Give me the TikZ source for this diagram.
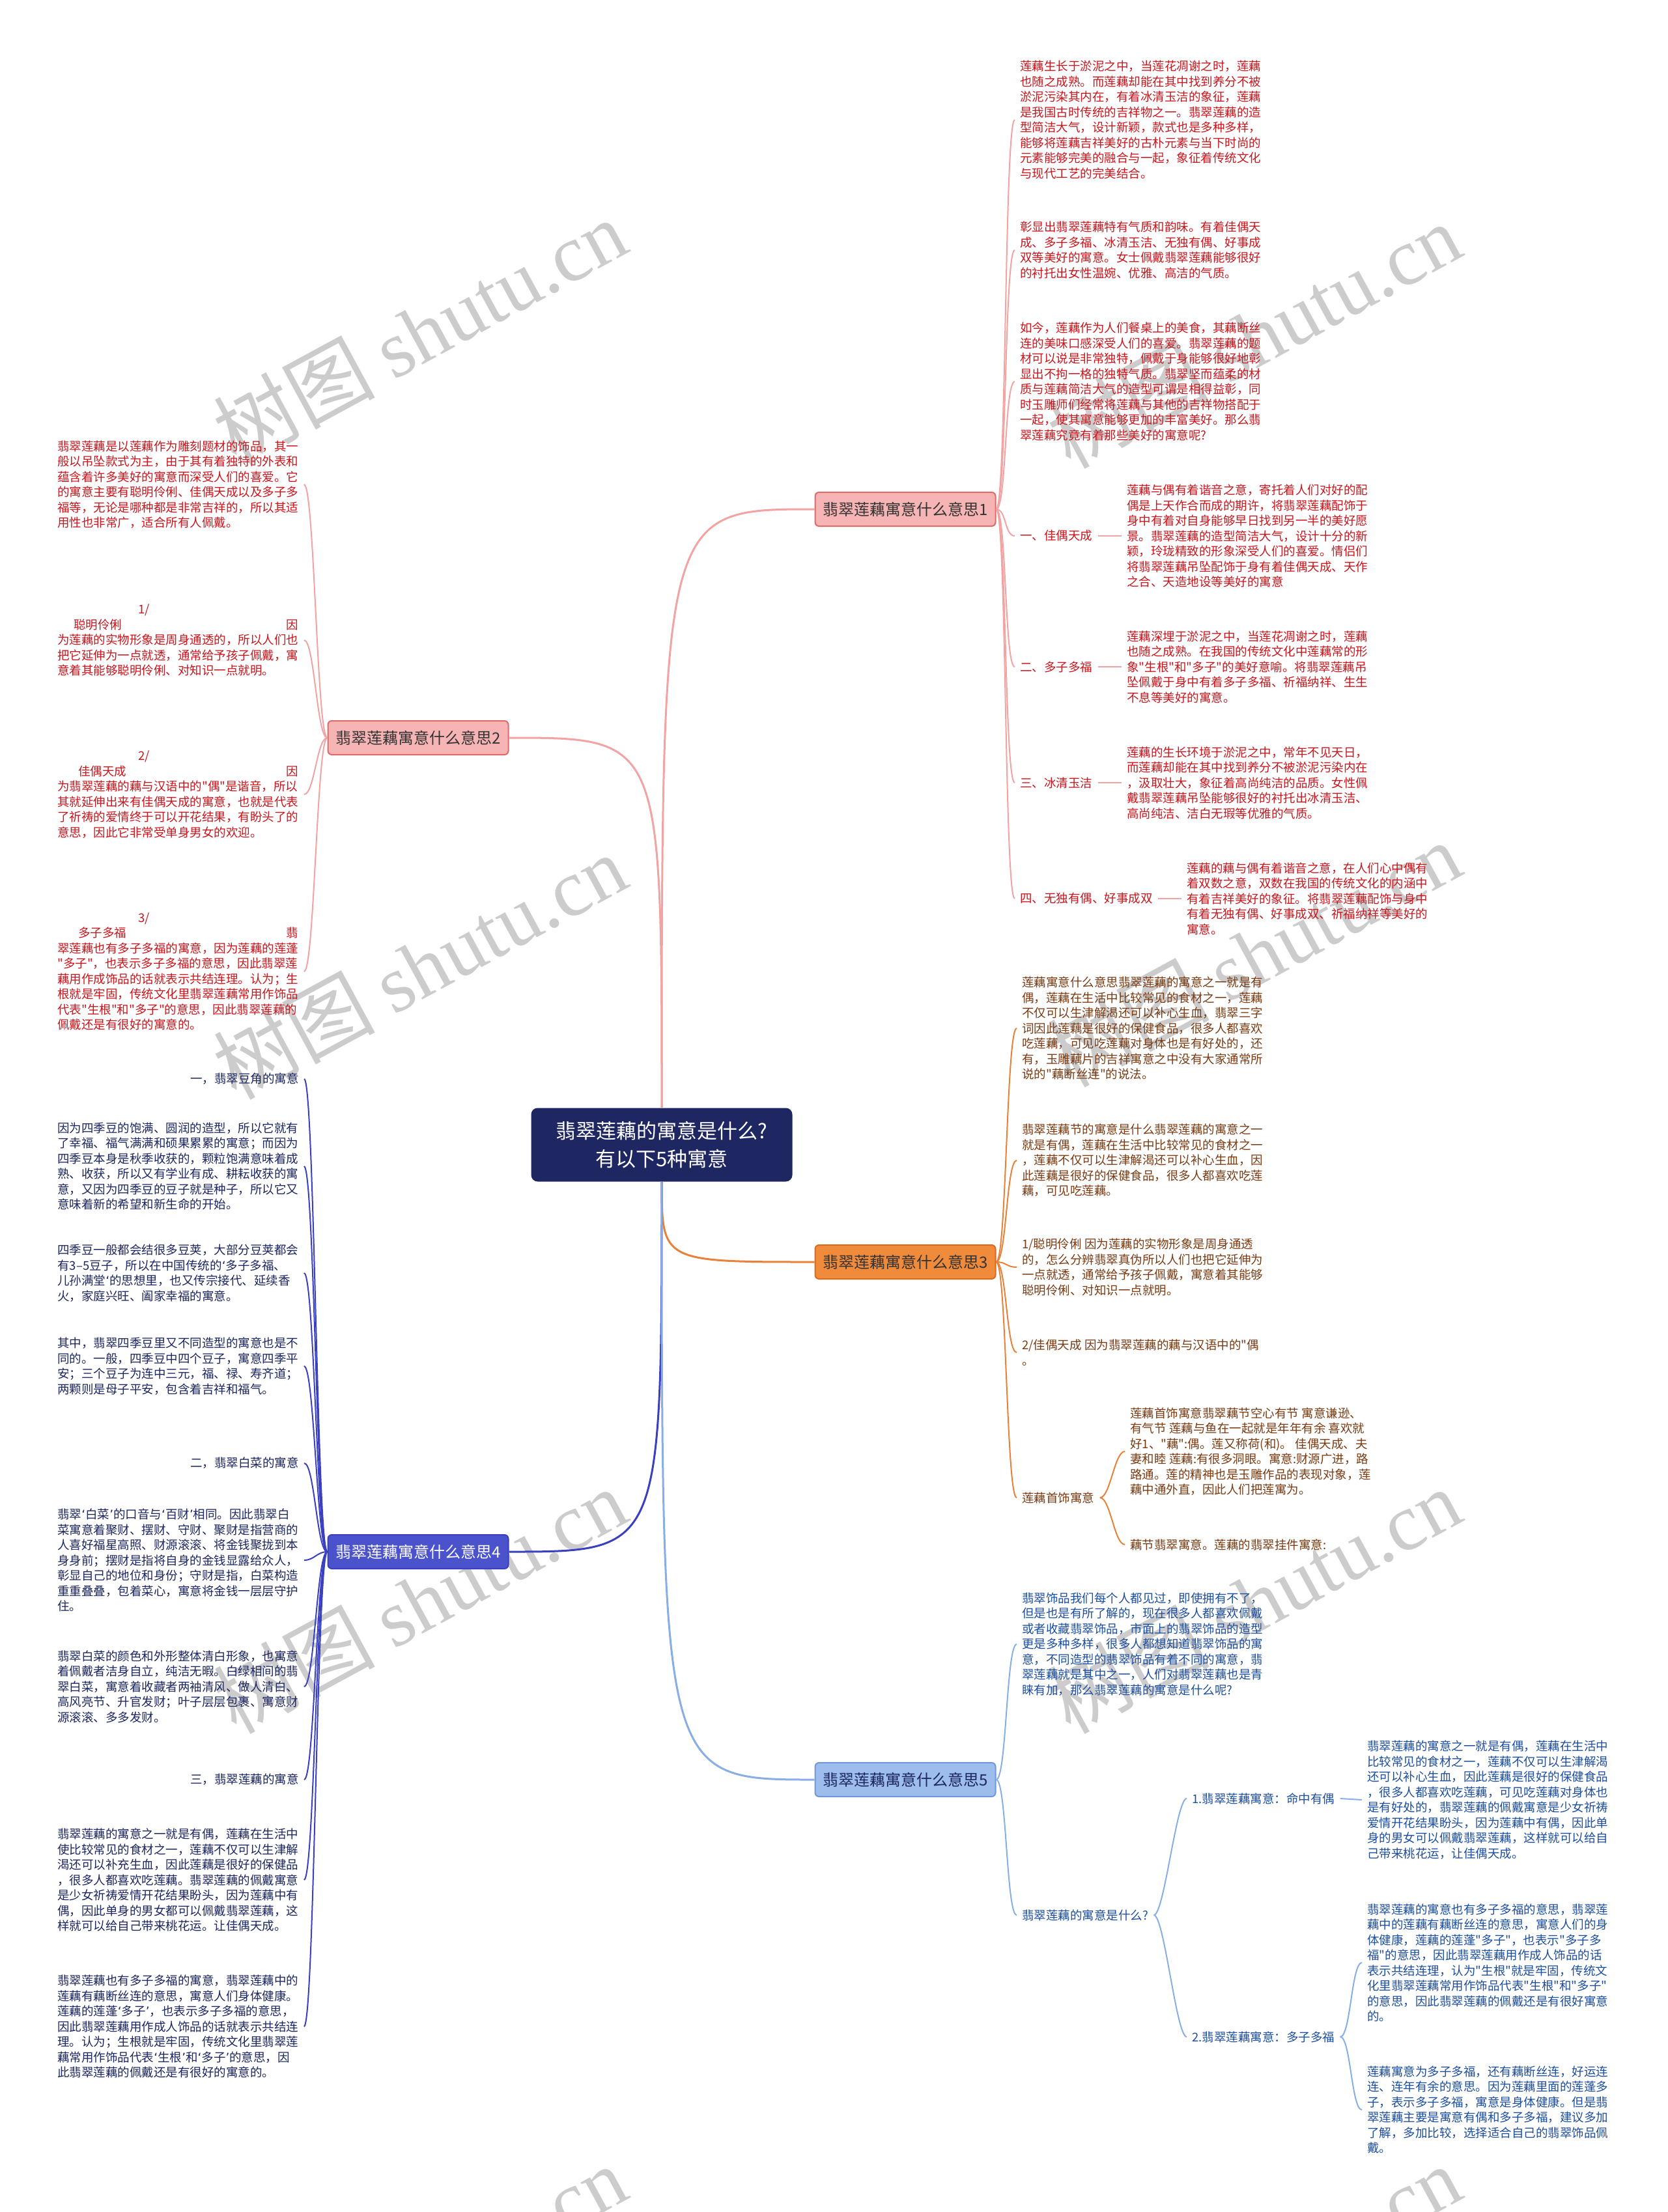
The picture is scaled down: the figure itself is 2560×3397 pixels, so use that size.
\documentclass[tikz,border=0pt]{standalone}
\usepackage{fontspec}
\newfontfamily\cjk{Noto Sans CJK SC}
\newfontfamily\wmfont{Liberation Serif}
\newfontfamily\latin{DejaVu Sans}
\usetikzlibrary{positioning}

\definecolor{rootfill}{HTML}{1F2762}
\definecolor{redline}{HTML}{F2A3A3}
\definecolor{redtext}{HTML}{C9161D}
\definecolor{redfill}{HTML}{F7B4B4}
\definecolor{rededge}{HTML}{E06A6A}
\definecolor{orline}{HTML}{E8823A}
\definecolor{ortext}{HTML}{7A3A12}
\definecolor{orfill}{HTML}{F08B3C}
\definecolor{oredge}{HTML}{D96A1E}
\definecolor{inline}{HTML}{3A40C0}
\definecolor{intext}{HTML}{1C2660}
\definecolor{infill}{HTML}{4A52CC}
\definecolor{blline}{HTML}{89AEE6}
\definecolor{bltext}{HTML}{1D4E9E}
\definecolor{blfill}{HTML}{9DBDEC}
\definecolor{bledge}{HTML}{6F98DA}

\tikzset{
  txt/.style={font=\cjk\fontsize{9.25}{11.75}\selectfont, inner sep=4pt, align=left},
  mainbox/.style={draw, rounded corners=3pt, minimum width=138.5pt, minimum height=26pt,
    inner sep=0pt, line width=1pt, font=\cjk\fontsize{12}{14}\selectfont},
  rootbox/.style={fill=rootfill, text=white, rounded corners=5pt, minimum width=200.5pt,
    minimum height=56.5pt, align=center, font=\cjk\fontsize{15.5}{21.5}\selectfont},
  wmark/.style={rotate=28.5, text=black!20, font=\cjk\fontsize{62}{62}\selectfont},
  rlink/.style={to path={.. controls +(16,0) and +(-16,0) .. (\tikztotarget)}},
  llink/.style={to path={.. controls +(-16,0) and +(16,0) .. (\tikztotarget)}},
}
\newlength\pw
\setlength\pw{185pt}
\newcommand\lsq{{\latin ‘}}
\newcommand\rsq{{\latin ’}}

\begin{document}
\begin{tikzpicture}[x=0.5pt,y=-0.5pt]
\fill[white] (0,0) rectangle (2560,3397);
\useasboundingbox (0,0) rectangle (2560,3397);

% watermark
\begin{scope}
\clip (0,0) rectangle (2560,3397);
\node (wm1) at (644,509) [wmark] {树图 {\wmfont shutu.cn}};
\node (wm2) at (1925,515) [wmark] {树图 {\wmfont shutu.cn}};
\node (wm3) at (644,1484) [wmark] {树图 {\wmfont shutu.cn}};
\node (wm4) at (1925,1465) [wmark] {树图 {\wmfont shutu.cn}};
\node (wm5) at (644,2458) [wmark] {树图 {\wmfont shutu.cn}};
\node (wm6) at (1925,2458) [wmark] {树图 {\wmfont shutu.cn}};
\node (wm7) at (644,3498) [wmark] {树图 {\wmfont shutu.cn}};
\node (wm8) at (1925,3498) [wmark] {树图 {\wmfont shutu.cn}};
\end{scope}

% root and main topics
\node (root) at (1016,1758) [rootbox] {翡翠莲藕的寓意是什么?\\有以下5种寓意};
\node (b1) at (1390,782) [mainbox, draw=rededge, fill=redfill, text=black!80] {翡翠莲藕寓意什么意思1};
\node (b2) at (642,1133) [mainbox, draw=rededge, fill=redfill, text=black!80] {翡翠莲藕寓意什么意思2};
\node (b3) at (1390,1938) [mainbox, draw=oredge, fill=orfill, text=black!80] {翡翠莲藕寓意什么意思3};
\node (b4) at (642,2383) [mainbox, draw=inline, fill=infill, text=white] {翡翠莲藕寓意什么意思4};
\node (b5) at (1390,2733) [mainbox, draw=bledge, fill=blfill, text=intext] {翡翠莲藕寓意什么意思5};

\draw[redline, line width=1.5pt] (root.north) .. controls (root.north |- b1.west) .. (b1.west);
\draw[redline, line width=1.5pt] (root.north) .. controls (root.north |- b2.east) .. (b2.east);
\draw[orline, line width=1.5pt] (root.south) .. controls (root.south |- b3.west) .. (b3.west);
\draw[inline, line width=1.5pt] (root.south) .. controls (root.south |- b4.east) .. (b4.east);
\draw[blline, line width=1.5pt] (root.south) .. controls (root.south |- b5.west) .. (b5.west);

% topic 1
\node (c1a) at (1558,184) [txt, anchor=west, text=redtext] {莲藕生长于淤泥之中，当莲花凋谢之时，莲藕\\也随之成熟。而莲藕却能在其中找到养分不被\\淤泥污染其内在，有着冰清玉洁的象征，莲藕\\是我国古时传统的吉祥物之一。翡翠莲藕的造\\型简洁大气，设计新颖，款式也是多种多样，\\能够将莲藕吉祥美好的古朴元素与当下时尚的\\元素能够完美的融合与一起，象征着传统文化\\与现代工艺的完美结合。};
\node (c1b) at (1558,384) [txt, anchor=west, text=redtext] {彰显出翡翠莲藕特有气质和韵味。有着佳偶天\\成、多子多福、冰清玉洁、无独有偶、好事成\\双等美好的寓意。女士佩戴翡翠莲藕能够很好\\的衬托出女性温婉、优雅、高洁的气质。};
\node (c1c) at (1558,586) [txt, anchor=west, text=redtext] {如今，莲藕作为人们餐桌上的美食，其藕断丝\\连的美味口感深受人们的喜爱。翡翠莲藕的题\\材可以说是非常独特，佩戴于身能够很好地彰\\显出不拘一格的独特气质。翡翠坚而蕴柔的材\\质与莲藕简洁大气的造型可谓是相得益彰，同\\时玉雕师们经常将莲藕与其他的吉祥物搭配于\\一起，使其寓意能够更加的丰富美好。那么翡\\翠莲藕究竟有着那些美好的寓意呢?};
\node (i1) at (1558,823) [txt, anchor=west, text=redtext] {一、佳偶天成};
\node (p1) at (1722,823) [txt, anchor=west, text=redtext] {莲藕与偶有着谐音之意，寄托着人们对好的配\\偶是上天作合而成的期许，将翡翠莲藕配饰于\\身中有着对自身能够早日找到另一半的美好愿\\景。翡翠莲藕的造型简洁大气，设计十分的新\\颖，玲珑精致的形象深受人们的喜爱。情侣们\\将翡翠莲藕吊坠配饰于身有着佳偶天成、天作\\之合、天造地设等美好的寓意};
\node (i2) at (1558,1024) [txt, anchor=west, text=redtext] {二、多子多福};
\node (p2) at (1722,1024) [txt, anchor=west, text=redtext] {莲藕深埋于淤泥之中，当莲花凋谢之时，莲藕\\也随之成熟。在我国的传统文化中莲藕常的形\\象"生根"和"多子"的美好意喻。将翡翠莲藕吊\\坠佩戴于身中有着多子多福、祈福纳祥、生生\\不息等美好的寓意。};
\node (i3) at (1558,1202) [txt, anchor=west, text=redtext] {三、冰清玉洁};
\node (p3) at (1722,1202) [txt, anchor=west, text=redtext] {莲藕的生长环境于淤泥之中，常年不见天日，\\而莲藕却能在其中找到养分不被淤泥污染内在\\，汲取壮大，象征着高尚纯洁的品质。女性佩\\戴翡翠莲藕吊坠能够很好的衬托出冰清玉洁、\\高尚纯洁、洁白无瑕等优雅的气质。};
\node (i4) at (1558,1380) [txt, anchor=west, text=redtext] {四、无独有偶、好事成双};
\node (p4) at (1814,1380) [txt, anchor=west, text=redtext] {莲藕的藕与偶有着谐音之意，在人们心中偶有\\着双数之意，双数在我国的传统文化的内涵中\\有着吉祥美好的象征。将翡翠莲藕配饰与身中\\有着无独有偶、好事成双、祈福纳祥等美好的\\寓意。};

\draw[redline, line width=1pt] (b1.east) to[rlink] (c1a.west);
\draw[redline, line width=1pt] (b1.east) to[rlink] (c1b.west);
\draw[redline, line width=1pt] (b1.east) to[rlink] (c1c.west);
\draw[redline, line width=1pt] (b1.east) to[rlink] (i1.west);
\draw[redline, line width=1pt] (b1.east) to[rlink] (i2.west);
\draw[redline, line width=1pt] (b1.east) to[rlink] (i3.west);
\draw[redline, line width=1pt] (b1.east) to[rlink] (i4.west);
\draw[redline, line width=1pt] (i1.east) -- (p1.west);
\draw[redline, line width=1pt] (i2.east) -- (p2.west);
\draw[redline, line width=1pt] (i3.east) -- (p3.west);
\draw[redline, line width=1pt] (i4.east) -- (p4.west);

% topic 2
\node (c2a) at (80,744) [txt, anchor=west, text=redtext] {翡翠莲藕是以莲藕作为雕刻题材的饰品，其一\\般以吊坠款式为主，由于其有着独特的外表和\\蕴含着许多美好的寓意而深受人们的喜爱。它\\的寓意主要有聪明伶俐、佳偶天成以及多子多\\福等，无论是哪种都是非常吉祥的，所以其适\\用性也非常广，适合所有人佩戴。};
\node (c2b) at (80,983) [txt, anchor=west, text=redtext] {\makebox[\pw][l]{\hspace*{62pt}1/}\\\makebox[\pw][l]{\hspace*{12.5pt}聪明伶俐\hfill 因}\\为莲藕的实物形象是周身通透的，所以人们也\\把它延伸为一点就透，通常给予孩子佩戴，寓\\意着其能够聪明伶俐、对知识一点就明。};
\node (c2c) at (80,1220) [txt, anchor=west, text=redtext] {\makebox[\pw][l]{\hspace*{62pt}2/}\\\makebox[\pw][l]{\hspace*{16pt}佳偶天成\hfill 因}\\为翡翠莲藕的藕与汉语中的"偶"是谐音，所以\\其就延伸出来有佳偶天成的寓意，也就是代表\\了祈祷的爱情终于可以开花结果，有盼头了的\\意思，因此它非常受单身男女的欢迎。};
\node (c2d) at (80,1492) [txt, anchor=west, text=redtext] {\makebox[\pw][l]{\hspace*{62pt}3/}\\\makebox[\pw][l]{\hspace*{16pt}多子多福\hfill 翡}\\翠莲藕也有多子多福的寓意，因为莲藕的莲蓬\\"多子"，也表示多子多福的意思，因此翡翠莲\\藕用作成饰品的话就表示共结连理。认为；生\\根就是牢固，传统文化里翡翠莲藕常用作饰品\\代表"生根"和"多子"的意思，因此翡翠莲藕的\\佩戴还是有很好的寓意的。};

\draw[redline, line width=1pt] (b2.west) to[llink] (c2a.east);
\draw[redline, line width=1pt] (b2.west) to[llink] (c2b.east);
\draw[redline, line width=1pt] (b2.west) to[llink] (c2c.east);
\draw[redline, line width=1pt] (b2.west) to[llink] (c2d.east);

% topic 3
\node (c3a) at (1561,1579) [txt, anchor=west, text=ortext] {莲藕寓意什么意思翡翠莲藕的寓意之一就是有\\偶，莲藕在生活中比较常见的食材之一，莲藕\\不仅可以生津解渴还可以补心生血，翡翠三字\\词因此莲藕是很好的保健食品，很多人都喜欢\\吃莲藕，可见吃莲藕对身体也是有好处的，还\\有，玉雕藕片的吉祥寓意之中没有大家通常所\\说的"藕断丝连"的说法。};
\node (c3b) at (1561,1782) [txt, anchor=west, text=ortext] {翡翠莲藕节的寓意是什么翡翠莲藕的寓意之一\\就是有偶，莲藕在生活中比较常见的食材之一\\，莲藕不仅可以生津解渴还可以补心生血，因\\此莲藕是很好的保健食品，很多人都喜欢吃莲\\藕，可见吃莲藕。};
\node (c3c) at (1561,1946) [txt, anchor=west, text=ortext] {1/聪明伶俐 因为莲藕的实物形象是周身通透\\的，怎么分辨翡翠真伪所以人们也把它延伸为\\一点就透，通常给予孩子佩戴，寓意着其能够\\聪明伶俐、对知识一点就明。};
\node (c3d) at (1561,2077) [txt, anchor=west, text=ortext] {2/佳偶天成 因为翡翠莲藕的藕与汉语中的"偶\\。};
\node (l3) at (1561,2300) [txt, anchor=west, text=ortext] {莲藕首饰寓意};
\node (s3a) at (1727,2229) [txt, anchor=west, text=ortext] {莲藕首饰寓意翡翠藕节空心有节 寓意谦逊、\\有气节 莲藕与鱼在一起就是年年有余 喜欢就\\好1、"藕":偶。莲又称荷(和)。 佳偶天成、夫\\妻和睦 莲藕:有很多洞眼。寓意:财源广进，路\\路通。莲的精神也是玉雕作品的表现对象，莲\\藕中通外直，因此人们把莲寓为。};
\node (s3b) at (1727,2372) [txt, anchor=west, text=ortext] {藕节翡翠寓意。莲藕的翡翠挂件寓意:};

\draw[orline, line width=1pt] (b3.east) to[rlink] (c3a.west);
\draw[orline, line width=1pt] (b3.east) to[rlink] (c3b.west);
\draw[orline, line width=1pt] (b3.east) to[rlink] (c3c.west);
\draw[orline, line width=1pt] (b3.east) to[rlink] (c3d.west);
\draw[orline, line width=1pt] (b3.east) to[rlink] (l3.west);
\draw[orline, line width=1pt] (l3.east) to[rlink] (s3a.west);
\draw[orline, line width=1pt] (l3.east) to[rlink] (s3b.west);

% topic 4
\node (d1) at (467,1657) [txt, anchor=east, text=intext] {一，翡翠豆角的寓意};
\node (d1a) at (80,1791) [txt, anchor=west, text=intext] {因为四季豆的饱满、圆润的造型，所以它就有\\了幸福、福气满满和硕果累累的寓意；而因为\\四季豆本身是秋季收获的，颗粒饱满意味着成\\熟、收获，所以又有学业有成、耕耘收获的寓\\意，又因为四季豆的豆子就是种子，所以它又\\意味着新的希望和新生命的开始。};
\node (d1b) at (80,1955) [txt, anchor=west, text=intext] {四季豆一般都会结很多豆荚，大部分豆荚都会\\有3–5豆子，所以在中国传统的\lsq 多子多福、\\儿孙满堂\lsq 的思想里，也又传宗接代、延续香\\火，家庭兴旺、阖家幸福的寓意。};
\node (d1c) at (80,2098) [txt, anchor=west, text=intext] {其中，翡翠四季豆里又不同造型的寓意也是不\\同的。一般，四季豆中四个豆子，寓意四季平\\安；三个豆子为连中三元，福、禄、寿齐道；\\两颗则是母子平安，包含着吉祥和福气。};
\node (d2) at (467,2247) [txt, anchor=east, text=intext] {二，翡翠白菜的寓意};
\node (d2a) at (80,2396) [txt, anchor=west, text=intext] {翡翠\lsq 白菜\rsq 的口音与\lsq 百财\rsq 相同。因此翡翠白\\菜寓意着聚财、摆财、守财、聚财是指营商的\\人喜好福星高照、财源滚滚、将金钱聚拢到本\\身身前；摆财是指将自身的金钱显露给众人，\\彰显自己的地位和身份；守财是指，白菜构造\\重重叠叠，包着菜心，寓意将金钱一层层守护\\住。};
\node (d2b) at (80,2590) [txt, anchor=west, text=intext] {翡翠白菜的颜色和外形整体清白形象，也寓意\\着佩戴者洁身自立，纯洁无暇。白绿相间的翡\\翠白菜，寓意着收藏者两袖清风、做人清白、\\高风亮节、升官发财；叶子层层包裹、寓意财\\源滚滚、多多发财。};
\node (d3) at (467,2733) [txt, anchor=east, text=intext] {三，翡翠莲藕的寓意};
\node (d3a) at (80,2887) [txt, anchor=west, text=intext] {翡翠莲藕的寓意之一就是有偶，莲藕在生活中\\使比较常见的食材之一，莲藕不仅可以生津解\\渴还可以补充生血，因此莲藕是很好的保健品\\，很多人都喜欢吃莲藕。翡翠莲藕的佩戴寓意\\是少女祈祷爱情开花结果盼头，因为莲藕中有\\偶，因此单身的男女都可以佩戴翡翠莲藕，这\\样就可以给自己带来桃花运。让佳偶天成。};
\node (d3b) at (80,3112) [txt, anchor=west, text=intext] {翡翠莲藕也有多子多福的寓意，翡翠莲藕中的\\莲藕有藕断丝连的意思，寓意人们身体健康。\\莲藕的莲蓬\lsq 多子\rsq ，也表示多子多福的意思，\\因此翡翠莲藕用作成人饰品的话就表示共结连\\理。认为；生根就是牢固，传统文化里翡翠莲\\藕常用作饰品代表\lsq 生根\rsq 和\lsq 多子\rsq 的意思，因\\此翡翠莲藕的佩戴还是有很好的寓意的。};

\draw[inline, line width=1pt] (b4.west) to[llink] (d1.east);
\draw[inline, line width=1pt] (b4.west) to[llink] (d1a.east);
\draw[inline, line width=1pt] (b4.west) to[llink] (d1b.east);
\draw[inline, line width=1pt] (b4.west) to[llink] (d1c.east);
\draw[inline, line width=1pt] (b4.west) to[llink] (d2.east);
\draw[inline, line width=1pt] (b4.west) to[llink] (d2a.east);
\draw[inline, line width=1pt] (b4.west) to[llink] (d2b.east);
\draw[inline, line width=1pt] (b4.west) to[llink] (d3.east);
\draw[inline, line width=1pt] (b4.west) to[llink] (d3a.east);
\draw[inline, line width=1pt] (b4.west) to[llink] (d3b.east);

% topic 5
\node (e1) at (1561,2525) [txt, anchor=west, text=bltext] {翡翠饰品我们每个人都见过，即使拥有不了，\\但是也是有所了解的，现在很多人都喜欢佩戴\\或者收藏翡翠饰品，市面上的翡翠饰品的造型\\更是多种多样，很多人都想知道翡翠饰品的寓\\意，不同造型的翡翠饰品有着不同的寓意，翡\\翠莲藕就是其中之一，人们对翡翠莲藕也是青\\睐有加，那么翡翠莲藕的寓意是什么呢?};
\node (e2) at (1561,2941) [txt, anchor=west, text=bltext] {翡翠莲藕的寓意是什么?};
\node (f1) at (1822,2762) [txt, anchor=west, text=bltext] {1.翡翠莲藕寓意：命中有偶};
\node (f1a) at (2091,2764) [txt, anchor=west, text=bltext] {翡翠莲藕的寓意之一就是有偶，莲藕在生活中\\比较常见的食材之一，莲藕不仅可以生津解渴\\还可以补心生血，因此莲藕是很好的保健食品\\，很多人都喜欢吃莲藕，可见吃莲藕对身体也\\是有好处的，翡翠莲藕的佩戴寓意是少女祈祷\\爱情开花结果盼头，因为莲藕中有偶，因此单\\身的男女可以佩戴翡翠莲藕，这样就可以给自\\己带来桃花运，让佳偶天成。};
\node (f2) at (1822,3128) [txt, anchor=west, text=bltext] {2.翡翠莲藕寓意：多子多福};
\node (f2a) at (2091,3014) [txt, anchor=west, text=bltext] {翡翠莲藕的寓意也有多子多福的意思，翡翠莲\\藕中的莲藕有藕断丝连的意思，寓意人们的身\\体健康，莲藕的莲蓬"多子"，也表示"多子多\\福"的意思，因此翡翠莲藕用作成人饰品的话\\表示共结连理，认为"生根"就是牢固，传统文\\化里翡翠莲藕常用作饰品代表"生根"和"多子"\\的意思，因此翡翠莲藕的佩戴还是有很好寓意\\的。};
\node (f2b) at (2091,3240) [txt, anchor=west, text=bltext] {莲藕寓意为多子多福，还有藕断丝连，好运连\\连、连年有余的意思。因为莲藕里面的莲蓬多\\子，表示多子多福，寓意是身体健康。但是翡\\翠莲藕主要是寓意有偶和多子多福，建议多加\\了解，多加比较，选择适合自己的翡翠饰品佩\\戴。};

\draw[blline, line width=1pt] (b5.east) to[rlink] (e1.west);
\draw[blline, line width=1pt] (b5.east) to[rlink] (e2.west);
\draw[blline, line width=1pt] (e2.east) to[rlink] (f1.west);
\draw[blline, line width=1pt] (e2.east) to[rlink] (f2.west);
\draw[blline, line width=1pt] (f1.east) -- (f1a.west);
\draw[blline, line width=1pt] (f2.east) to[rlink] (f2a.west);
\draw[blline, line width=1pt] (f2.east) to[rlink] (f2b.west);

\end{tikzpicture}
\end{document}
